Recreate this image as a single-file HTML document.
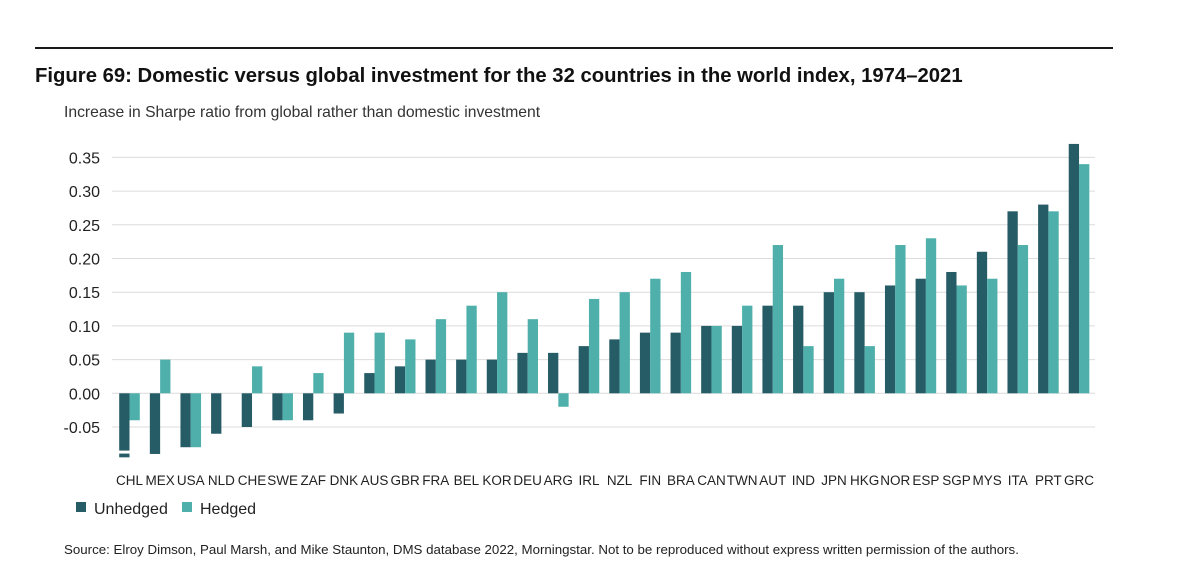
<!DOCTYPE html>
<html><head><meta charset="utf-8"><style>
body{margin:0;background:#fff;width:1200px;height:583px;overflow:hidden;font-family:"Liberation Sans",sans-serif;}
svg{display:block}
</style></head><body>
<svg id="chart" width="1200" height="583">
<line x1="35" y1="48" x2="1113" y2="48" stroke="#1a1a1a" stroke-width="2"/>
<text x="35" y="82" font-size="20.3" font-weight="bold" fill="#111">Figure 69: Domestic versus global investment for the 32 countries in the world index, 1974–2021</text>
<text x="64" y="117" font-size="15.7" fill="#333">Increase in Sharpe ratio from global rather than domestic investment</text>
<g id="grid"></g><g id="bars"></g><g id="xlabels"></g>
<rect x="76" y="502" width="10" height="10" fill="#265c66"/>
<text x="94" y="514" font-size="16" fill="#222">Unhedged</text>
<rect x="182" y="502" width="10" height="10" fill="#4fb0ab"/>
<text x="200" y="514" font-size="16" fill="#222">Hedged</text>
<text x="64" y="554" font-size="13.3" fill="#222">Source: Elroy Dimson, Paul Marsh, and Mike Staunton, DMS database 2022, Morningstar. Not to be reproduced without express written permission of the authors.</text>
</svg>
<script>
const categories=["CHL","MEX","USA","NLD","CHE","SWE","ZAF","DNK","AUS","GBR","FRA","BEL","KOR","DEU","ARG","IRL","NZL","FIN","BRA","CAN","TWN","AUT","IND","JPN","HKG","NOR","ESP","SGP","MYS","ITA","PRT","GRC"];
const unhedged=[-0.095,-0.09,-0.08,-0.06,-0.05,-0.04,-0.04,-0.03,0.03,0.04,0.05,0.05,0.05,0.06,0.06,0.07,0.08,0.09,0.09,0.10,0.10,0.13,0.13,0.15,0.15,0.16,0.17,0.18,0.21,0.27,0.28,0.37];
const hedged=[-0.04,0.05,-0.08,0,0.04,-0.04,0.03,0.09,0.09,0.08,0.11,0.13,0.15,0.11,-0.02,0.14,0.15,0.17,0.18,0.10,0.13,0.22,0.07,0.17,0.07,0.22,0.23,0.16,0.17,0.22,0.27,0.34];
const yTicks=[-0.05,0,0.05,0.10,0.15,0.20,0.25,0.30,0.35];
const yTickLabels=["-0.05","0.00","0.05","0.10","0.15","0.20","0.25","0.30","0.35"];
const NS="http://www.w3.org/2000/svg";
const y=v=>393.3-v*(33.7/0.05);
const x=i=>129.5+i*30.63;
const grid=document.getElementById('grid'),bars=document.getElementById('bars'),xl=document.getElementById('xlabels');
yTicks.forEach((t,i)=>{
 const l=document.createElementNS(NS,'line');
 l.setAttribute('x1',112);l.setAttribute('x2',1095);l.setAttribute('y1',y(t));l.setAttribute('y2',y(t));
 l.setAttribute('stroke','#dcdcdc');l.setAttribute('stroke-width','1');
 
 
 grid.appendChild(l);
 const tx=document.createElementNS(NS,'text');
 tx.setAttribute('x',100);tx.setAttribute('y',y(t)+6);tx.setAttribute('text-anchor','end');
 tx.setAttribute('font-size','16');tx.setAttribute('fill','#222');tx.textContent=yTickLabels[i];
 
 
 grid.appendChild(tx);
});
function bar(v,x0,col,name){
 const r=document.createElementNS(NS,'rect');
 r.setAttribute('x',x0);r.setAttribute('width',10.3);
 r.setAttribute('y',Math.min(y(v),y(0)));r.setAttribute('height',Math.abs(y(v)-y(0)));
 r.setAttribute('fill',col);
 
 
 bars.appendChild(r);
}
categories.forEach((c,i)=>{
 bar(unhedged[i],x(i)-10.3,'#265c66','bar-unhedged-'+c.toLowerCase());
 bar(hedged[i],x(i),'#4fb0ab','bar-hedged-'+c.toLowerCase());
 const t=document.createElementNS(NS,'text');
 t.setAttribute('x',x(i));t.setAttribute('y',485);t.setAttribute('text-anchor','middle');
 t.setAttribute('font-size','13.5');t.setAttribute('fill','#222');t.textContent=c;
 
 
 xl.appendChild(t);
});
const br=document.createElementNS(NS,'rect');
br.setAttribute('x',x(0)-11);br.setAttribute('width',12);br.setAttribute('y',y(-0.085));br.setAttribute('height',3);br.setAttribute('fill','#fff');


bars.appendChild(br);
</script>
</body></html>
